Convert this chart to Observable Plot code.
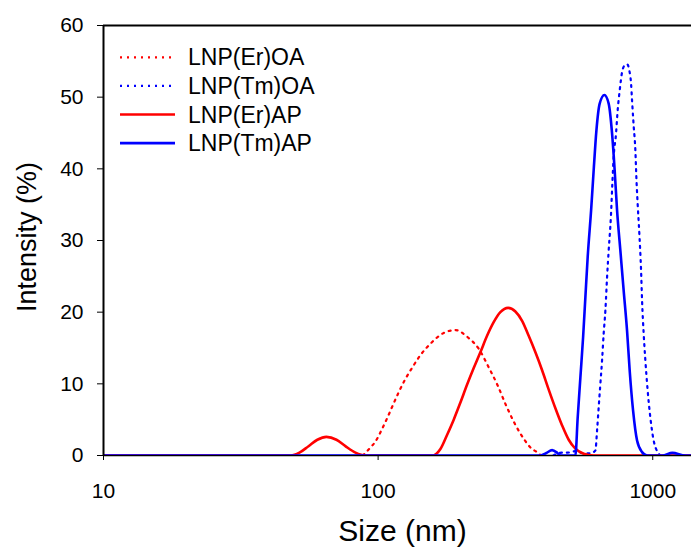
<!DOCTYPE html>
<html>
<head>
<meta charset="utf-8">
<script src="https://cdn.jsdelivr.net/npm/d3@7"></script>
<script src="https://cdn.jsdelivr.net/npm/@observablehq/plot@0.6"></script>
<style>
  html, body { margin: 0; padding: 0; background: #fff; color: #000; }
  #wrap { position: relative; width: 691px; height: 549px; }
  #legend { position: absolute; left: 0; top: 0; pointer-events: none; }
</style>
</head>
<body>
<div id="wrap"></div>
<script>
// ---- data (size in nm, intensity in %) ----
const seriesNames = ["LNP(Er)OA", "LNP(Tm)OA", "LNP(Er)AP", "LNP(Tm)AP"];
const seriesColors = ["#ff0000", "#0000ff", "#ff0000", "#0000ff"];
const seriesDotted = [true, true, false, false];

const sizesErOA = [88, 93.7, 97.8, 103.4, 108.4, 113.4, 118.9, 125.4, 133.3, 142.6, 156, 173.3, 191.1, 212, 232.4, 252.8, 272.5, 290.7, 313.4, 343.8, 360.6, 379.3, 392];
const intErOA   = [0, 1.1, 1.95, 3.72, 5.39, 7.1, 8.84, 10.6, 12.3, 14.0, 15.7, 17.1, 17.5, 16.5, 14.9, 12.3, 9.77, 7.21, 4.56, 2.0, 1.02, 0.46, 0];

const sizesTmOA = [434.7, 467.7, 488.9, 522.8, 560, 593, 618.2, 627, 635.5, 644.6, 653.9, 662.7, 672.2, 681.9, 691.1, 704.9, 712.6, 720.4, 735, 744.9, 757.8, 773.3, 788.3, 806.3, 822, 833.8, 840.9, 852.2, 864.4, 871.7, 881.2, 893.9, 906.8, 914.4, 926.8, 939.9, 958.1, 980.1, 1007.6, 1041.9, 1065.8];
const intTmOA   = [0, 0.4, 0.4, 0.6, 0.3, 0.3, 0.7, 3.5, 6.7, 10.0, 13.3, 17.0, 20.2, 24.9, 28.6, 33.7, 37.9, 41.6, 44.9, 48.1, 50.9, 53.5, 54.4, 54.6, 53.7, 51.9, 49.5, 46, 42.6, 38.8, 35.1, 30.9, 25.8, 21.6, 17.0, 13.3, 9.1, 5.3, 2.1, 0.47, 0];

const sizesErAP = [10, 48, 51.7, 55.8, 60.1, 64.8, 70.5, 76, 82.7, 89.9, 157.3, 163, 168.6, 178.4, 188.5, 199.4, 210.9, 222.9, 235.7, 249.3, 263.5, 278.7, 297.4, 316.1, 334.4, 353.4, 373.9, 395.5, 418, 442.1, 467.7, 494.3, 522.8, 560.4, 609.4, 1500];
const intErAP   = [0, 0, 0.4, 1.3, 2.2, 2.6, 2.2, 1.3, 0.4, 0, 0, 0.25, 0.9, 2.9, 5.0, 7.4, 9.9, 12.2, 14.4, 16.7, 18.6, 20.0, 20.6, 20.1, 18.8, 16.7, 14.4, 11.9, 9.2, 6.6, 4.2, 2.2, 0.95, 0.25, 0, 0];

const sizesTmAP = [10, 389.7, 410, 430, 449.6, 461, 522.8, 533, 545.2, 557.7, 568.5, 579.6, 596.4, 609.4, 623.4, 640.9, 666.6, 691.1, 711.1, 726.7, 741.5, 762.3, 783.7, 806.3, 824.1, 847.9, 876.8, 914.4, 953.6, 1083.8, 1178.7, 1314, 1500];
const intTmAP   = [0, 0, 0.35, 0.75, 0.35, 0, 0, 5.3, 10.9, 16.5, 22.1, 27.7, 34.2, 39.8, 45.3, 49.1, 50.3, 49.1, 44.9, 39.8, 34.2, 28.6, 23.0, 17.4, 11.9, 6.28, 2.09, 0.47, 0, 0, 0.37, 0, 0];

const xTicks = [10, 100, 1000];
const yTicks = [0, 10, 20, 30, 40, 50, 60];
const xTitle = "Size (nm)";
const yTitle = "Intensity (%)";

// ---- build tables ----
const rows = (sizes, vals) => sizes.map((s, i) => ({size: s, intensity: vals[i]}));
const dataSets = [rows(sizesErOA, intErOA), rows(sizesTmOA, intTmOA), rows(sizesErAP, intErAP), rows(sizesTmAP, intTmAP)];

const FONT = "'Liberation Sans', Arial, Helvetica, sans-serif";
const dotDash = "2 5";

const lineMarks = dataSets.map((d, i) => Plot.line(d, {
  x: "size", y: "intensity",
  stroke: seriesColors[i],
  strokeWidth: seriesDotted[i] ? 2.2 : 2.6,
  strokeDasharray: seriesDotted[i] ? dotDash : null,
  curve: "monotone-x",
  clip: true
}));

const chart = Plot.plot({
  width: 691, height: 549,
  marginLeft: 103, marginRight: 0, marginTop: 25, marginBottom: 94,
  style: {fontFamily: FONT, fontSize: "21px", color: "#000", background: "#fff", overflow: "hidden"},
  x: {type: "log", domain: [10, 1384]},
  y: {domain: [0, 60]},
  marks: [
    Plot.ruleY([0], {stroke: "#000", strokeWidth: 1.5}),
    ...lineMarks,
    Plot.ruleX([10], {stroke: "#000", strokeWidth: 2}),
    Plot.ruleY([60], {stroke: "#000", strokeWidth: 2}),
    Plot.axisX({ticks: xTicks, tickSize: 5, tickPadding: 23, fontSize: 21, tickFormat: d => String(d), label: null, stroke: "#000"}),
    Plot.axisY({ticks: yTicks, tickSize: 6, tickPadding: 14, fontSize: 21, label: null, stroke: "#000"}),
    Plot.text([xTitle], {text: d => d, frameAnchor: "bottom", textAnchor: "middle", lineAnchor: "middle", dx: 5, dy: 76, fontSize: 30, fill: "#000"}),
    Plot.text([yTitle], {text: d => d, frameAnchor: "left", textAnchor: "middle", lineAnchor: "middle", rotate: -90, dx: -76, dy: -3.5, fontSize: 27, fill: "#000"})
  ]
});

const wrap = document.getElementById("wrap");
wrap.appendChild(chart);

// ---- legend overlay ----
const leg = d3.select(wrap).append("svg")
  .attr("id", "legend").attr("width", 691).attr("height", 549);
const legX0 = 120, legX1 = 175, legTextX = 188, legY0 = 57.3, legStep = 28.6;
seriesNames.forEach((name, i) => {
  const y = legY0 + i * legStep;
  leg.append("line")
    .attr("x1", legX0).attr("x2", legX1).attr("y1", y).attr("y2", y)
    .attr("stroke", seriesColors[i])
    .attr("stroke-width", seriesDotted[i] ? 2.2 : 2.6)
    .attr("stroke-dasharray", seriesDotted[i] ? dotDash : null);
  leg.append("text")
    .attr("x", legTextX).attr("y", y).attr("dy", "0.35em")
    .attr("font-family", FONT).attr("font-size", 23).attr("fill", "#000")
    .text(name);
});
</script>
</body>
</html>
